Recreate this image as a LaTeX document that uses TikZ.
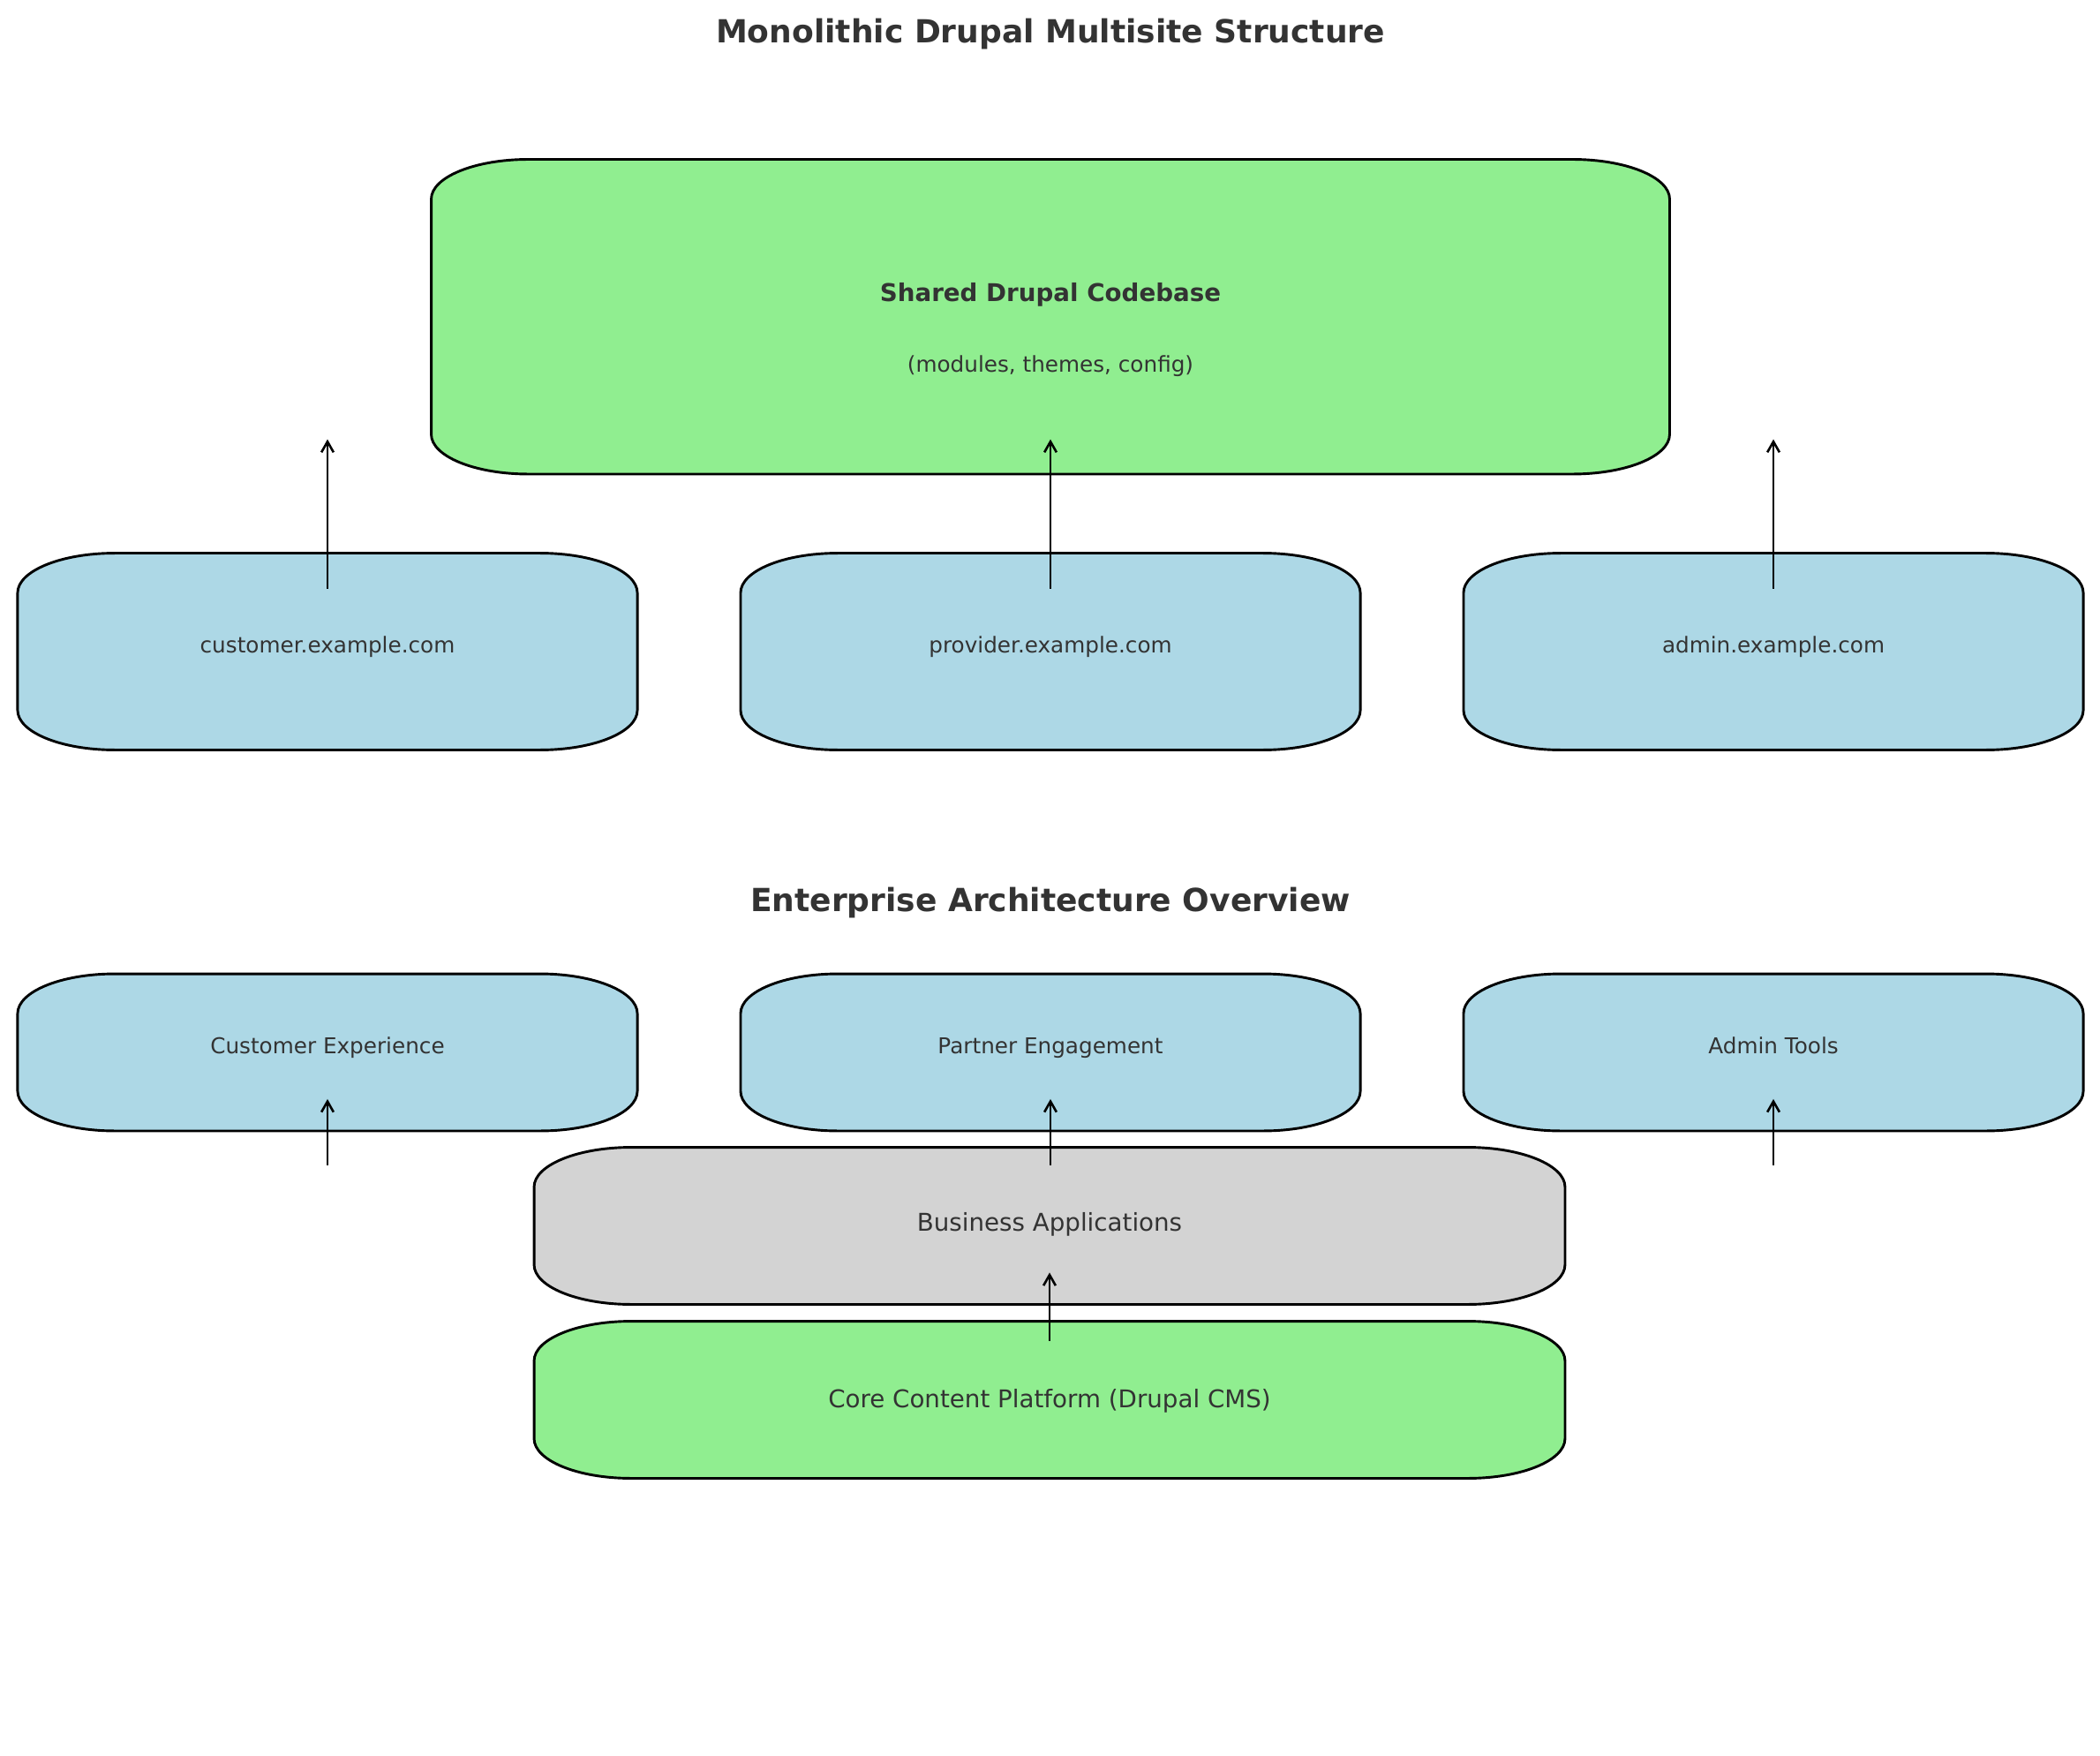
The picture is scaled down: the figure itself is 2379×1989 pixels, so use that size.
\documentclass[tikz,border=0pt]{standalone}
\usepackage{fontspec}
\setmainfont{DejaVu Sans}
\usepackage{tikz}
\usetikzlibrary{calc,arrows.meta,backgrounds,positioning}
\usepackage{xcolor}

\definecolor{txtgray}{HTML}{333333}
\definecolor{codegreen}{HTML}{90EE90}
\definecolor{siteblue}{HTML}{ADD8E6}
\definecolor{appgray}{HTML}{D3D3D3}

\newcommand{\crx}{52.8pt}
\newcommand{\cry}{21.6pt}
% box with elliptic corners round a named node
\newcommand{\roundbox}[2]{%
	\draw[boxline,fill=#2] ([xshift=\crx]#1.north west) -- ([xshift=-\crx]#1.north east)
	arc[start angle=90,end angle=0,x radius=\crx,y radius=\cry]
	-- ([yshift=\cry]#1.south east)
	arc[start angle=0,end angle=-90,x radius=\crx,y radius=\cry]
	-- ([xshift=\crx]#1.south west)
	arc[start angle=270,end angle=180,x radius=\crx,y radius=\cry]
	-- ([yshift=-\cry]#1.north west)
	arc[start angle=180,end angle=90,x radius=\crx,y radius=\cry] -- cycle;}

\tikzset{
	boxline/.style={draw=black,line width=1.4pt},
	box/.style={inner sep=0pt,outer sep=0pt,text=txtgray},
	arr/.style={-{Straight Barb[length=5.8pt,width=6.6pt]},line width=1.25pt}
}

\begin{document}
\begin{tikzpicture}[x=0.48pt,y=0.48pt,
	title/.style={font=\fontsize{17.3}{20}\selectfont\bfseries,text=txtgray},
	sitebox/.style={box,minimum width=337pt,minimum height=107pt,text height=0.7em,text depth=0.58em,font=\fontsize{11.85}{14}\selectfont},
	areabox/.style={box,minimum width=337pt,minimum height=85.4pt,text height=0.7em,text depth=0.58em,font=\fontsize{11.85}{14}\selectfont},
	layerbox/.style={box,minimum width=560.6pt,minimum height=85.4pt,text height=0.8em,text depth=0.27em,font=\fontsize{13.3}{16}\selectfont}]
	\useasboundingbox (0,0) rectangle (2379,-1989);
	
	% multisite part
	\node[title] (title1) at (1190,-39) {Monolithic Drupal Multisite Structure};
	\node[box,minimum width=673.4pt,minimum height=171.1pt] (code) at (1190,-358.75) {};
	\node[box,anchor=base,font=\fontsize{13.3}{16}\selectfont\bfseries] (shared) at ([yshift=8.3pt]code.center) {Shared Drupal Codebase};
	\node[box,anchor=base,font=\fontsize{11.85}{14}\selectfont] (parts) at ([yshift=-30.3pt]code.center) {(modules, themes, config)};
	
	\foreach \n/\x/\t in {cust/371/customer.example.com,prov/1190/provider.example.com,adm/2009/admin.example.com}
	\node[sitebox] (\n) at (\x,-738) {\t};
	
	% enterprise part
	\node[title] (title2) at (1190,-1023) {Enterprise Architecture Overview};
	\foreach \n/\x/\t in {cx/371/Customer Experience,partner/1190/Partner Engagement,tools/2009/Admin Tools}
	\node[areabox] (\n) at (\x,-1192) {\t};
	\node[layerbox] (apps) at (1189,-1388.5) {Business Applications};
	\node[layerbox,text height=1em,text depth=0.14em] (core) at (1189,-1585.5) {Core Content Platform (Drupal CMS)};
	
	\begin{scope}[on background layer]
		\roundbox{code}{codegreen}
		\foreach \n in {cust,prov,adm} {\roundbox{\n}{siteblue}}
		\foreach \n in {cx,partner,tools} {\roundbox{\n}{siteblue}}
		\roundbox{apps}{appgray}
		\roundbox{core}{codegreen}
	\end{scope}
	
	\foreach \n in {cust,prov,adm}
	\draw[arr] ([yshift=-19.2pt]\n.north) -- ([yshift=18.9pt]\n.north |- code.south);
	\foreach \n in {cx,partner,tools}
	\draw[arr] ([yshift=-9.6pt]\n.south |- apps.north) -- ([yshift=17.3pt]\n.south);
	\draw[arr] ([yshift=-10.6pt]core.north) -- ([yshift=17.3pt]apps.south);
\end{tikzpicture}
\end{document}
